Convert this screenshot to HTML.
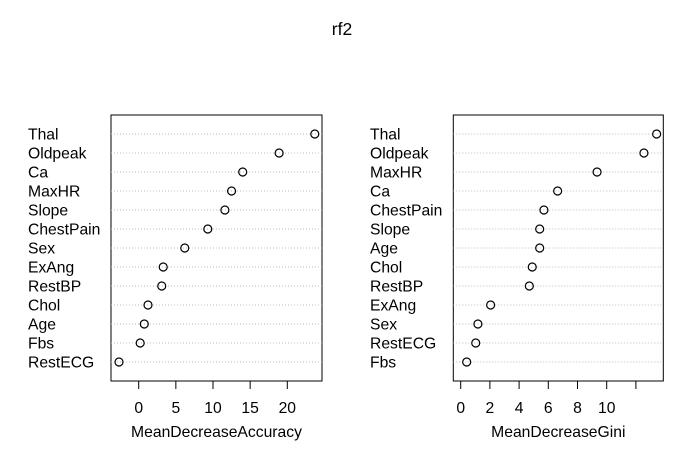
<!DOCTYPE html>
<html><head><meta charset="utf-8"><style>
html,body{margin:0;padding:0;background:#fff}
svg{display:block;font-family:"Liberation Sans",Arial,sans-serif}
</style></head><body>
<svg id="chart" width="684" height="458" viewBox="0 0 684 458" xmlns="http://www.w3.org/2000/svg">
<text x="342" y="35" font-size="17.5" text-anchor="middle">rf2</text>
</svg>
<script>
const accLabels=["Thal","Oldpeak","Ca","MaxHR","Slope","ChestPain","Sex","ExAng","RestBP","Chol","Age","Fbs","RestECG"];
const accValues=[23.7,18.9,14.0,12.5,11.6,9.3,6.2,3.3,3.1,1.25,0.75,0.2,-2.65];
const accTicks=[0,5,10,15,20];
const giniLabels=["Thal","Oldpeak","MaxHR","Ca","ChestPain","Slope","Age","Chol","RestBP","ExAng","Sex","RestECG","Fbs"];
const giniValues=[13.42,12.55,9.34,6.64,5.70,5.41,5.41,4.9,4.7,2.05,1.18,1.03,0.41];
const giniTicks=[0,2,4,6,8,10,12];
const giniTickLabels=["0","2","4","6","8","10",""];

const svg=document.getElementById('chart');
const NS="http://www.w3.org/2000/svg";
const FS=15.7;
function mk(tag,attrs,parent){const e=document.createElementNS(NS,tag);for(const k in attrs)e.setAttribute(k,attrs[k]);(parent||svg).appendChild(e);return e;}

function panel(name,labels,values,ticks,tickLabels,cfg){
  const g=mk('g',{});
  
  
  const xs=v=>cfg.x0px+(v-cfg.v0)*cfg.ppu;
  const ys=i=>134+i*19;
  const box=mk('rect',{x:cfg.left,y:115,width:cfg.right-cfg.left,height:266,fill:'none',stroke:'#000','stroke-width':1},g);
  
  
  labels.forEach((lab,i)=>{
    const y=ys(i);
    const gl=mk('line',{x1:cfg.left,x2:cfg.right,y1:y,y2:y,stroke:'#bbb','stroke-dasharray':'1,2','stroke-width':1},g);
    
    
    const t=mk('text',{x:cfg.labelX,y:y+5.5,'font-size':FS},g);
    t.textContent=lab;
    
    
    const c=mk('circle',{cx:xs(values[i]),cy:y,r:4,fill:'none',stroke:'#000','stroke-width':1.2},g);
    
    
  });
  const axis=mk('line',{x1:xs(ticks[0]),x2:xs(ticks[ticks.length-1]),y1:381,y2:381,stroke:'#000'},g);
  
  
  ticks.forEach((tv,i)=>{
    const tk=mk('line',{x1:xs(tv),x2:xs(tv),y1:381,y2:389,stroke:'#000'},g);
    
    
    const tl=mk('text',{x:xs(tv),y:413,'font-size':FS,'text-anchor':'middle'},g);
    tl.textContent=tickLabels[i];
    
    
  });
  const at=mk('text',{x:(cfg.left+cfg.right)/2,y:437,'font-size':FS,'text-anchor':'middle'},g);
  at.textContent=cfg.title;
  
  
}
panel('accuracy',accLabels,accValues,accTicks,accTicks.map(String),{left:111,right:322,x0px:138.7,v0:0,ppu:7.43,labelX:28,title:'MeanDecreaseAccuracy'});
panel('gini',giniLabels,giniValues,giniTicks,giniTickLabels,{left:453.3,right:663.3,x0px:460.7,v0:0,ppu:14.6,labelX:370,title:'MeanDecreaseGini'});
</script>
</body></html>
